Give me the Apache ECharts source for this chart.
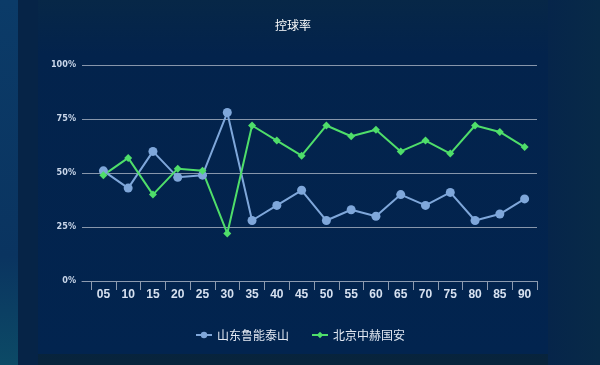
<!DOCTYPE html>
<html>
<head>
<meta charset="utf-8">
<script src="https://cdn.jsdelivr.net/npm/echarts@6/dist/echarts.min.js"></script>
<style>
html,body{margin:0;padding:0;background:#06254a;}
#c{width:600px;height:365px;}
</style>
</head>
<body>
<div id="c"></div>
<script>
var categories = ['05','10','15','20','25','30','35','40','45','50','55','60','65','70','75','80','85','90'];
var luneng = [51,43,60,48,49,78,28,35,42,28,33,30,40,35,41,28,31,38];
var guoan = [49,57,40,52,51,22,72,65,58,72,67,70,60,65,59,72,69,62];
var yTicks = [0,25,50,75,100];
var seriesNames = ['山东鲁能泰山','北京中赫国安'];

var chart = echarts.init(document.getElementById('c'));
chart.setOption({
  backgroundColor: 'transparent',
  graphic: [
    {type:'rect', silent:true, z:-10, shape:{x:0,y:0,width:600,height:365}, style:{fill:new echarts.graphic.LinearGradient(0,0,0,1,[{offset:0,color:'#06254a'},{offset:0.8,color:'#05203f'},{offset:1,color:'#08243c'}])}},
    {type:'rect', silent:true, z:-9, shape:{x:0,y:0,width:18,height:365}, style:{fill:new echarts.graphic.LinearGradient(0,0,0,1,[{offset:0,color:'#0b3b68'},{offset:0.7,color:'#0a3460'},{offset:1,color:'#0c4a66'}])}},
    {type:'rect', silent:true, z:-9, shape:{x:18,y:0,width:20,height:365}, style:{fill:'#062447'}},
    {type:'rect', silent:true, z:-8, shape:{x:38,y:0,width:510,height:354}, style:{fill:new echarts.graphic.LinearGradient(0,0,0,1,[{offset:0,color:'#072747'},{offset:0.15,color:'#03234c'},{offset:1,color:'#02244f'}])}},
    {type:'rect', silent:true, z:-9, shape:{x:548,y:0,width:52,height:365}, style:{fill:new echarts.graphic.LinearGradient(0,0,1,0,[{offset:0,color:'#06254a'},{offset:1,color:'#082a48'}])}}
  ],
  title: {
    text: '控球率',
    left: 270,
    top: 14,
    textStyle: {color:'#ffffff', fontSize:12, fontWeight:'normal', fontFamily:'Noto Sans CJK SC'}
  },
  legend: {
    bottom: 19,
    left: 'center',
    itemWidth: 16,
    itemHeight: 8,
    itemGap: 22,
    data: seriesNames,
    textStyle: {color:'#e3e9f3', fontSize:12, fontFamily:'Noto Sans CJK SC'}
  },
  grid: [
    {left:82, right:63, top:65, bottom:84},
    {left:91, right:63, top:65, bottom:84}
  ],
  xAxis: [
    {
      type:'category', gridIndex:0, data:categories,
      axisLine:{show:true, lineStyle:{color:'#8d9bb0', width:1}},
      axisTick:{show:false}, axisLabel:{show:false}, splitLine:{show:false}
    },
    {
      type:'category', gridIndex:1, data:categories, boundaryGap:true,
      axisLine:{show:false},
      axisTick:{show:true, length:9, lineStyle:{color:'#8d9bb0'}},
      axisLabel:{color:'#d7e1f0', fontSize:12, fontWeight:'bold', fontFamily:'Liberation Sans', margin:8},
      splitLine:{show:false}
    }
  ],
  yAxis: [
    {
      type:'value', gridIndex:0, min:0, max:100, interval:25,
      axisLine:{show:false}, axisTick:{show:false},
      axisLabel:{color:'#cad7ea', fontSize:9, fontWeight:'bold', fontFamily:'DejaVu Sans Condensed', margin:6,
        formatter:function(v){ return yTicks.indexOf(v) >= 0 ? v + '%' : ''; }},
      splitLine:{show:true, lineStyle:{color:'#8796ab', width:1}}
    },
    {
      type:'value', gridIndex:1, min:0, max:100, interval:25,
      axisLine:{show:false}, axisTick:{show:false}, axisLabel:{show:false}, splitLine:{show:false}
    }
  ],
  series: [
    {
      name: seriesNames[0], type:'line', xAxisIndex:1, yAxisIndex:1,
      data: luneng, symbol:'circle', symbolSize:9,
      itemStyle:{color:'#7fa7da'}, lineStyle:{color:'#7fa7da', width:2}
    },
    {
      name: seriesNames[1], type:'line', xAxisIndex:1, yAxisIndex:1,
      data: guoan, symbol:'diamond', symbolSize:8,
      itemStyle:{color:'#4fde6a'}, lineStyle:{color:'#4fde6a', width:2}
    }
  ]
});
</script>
</body>
</html>
